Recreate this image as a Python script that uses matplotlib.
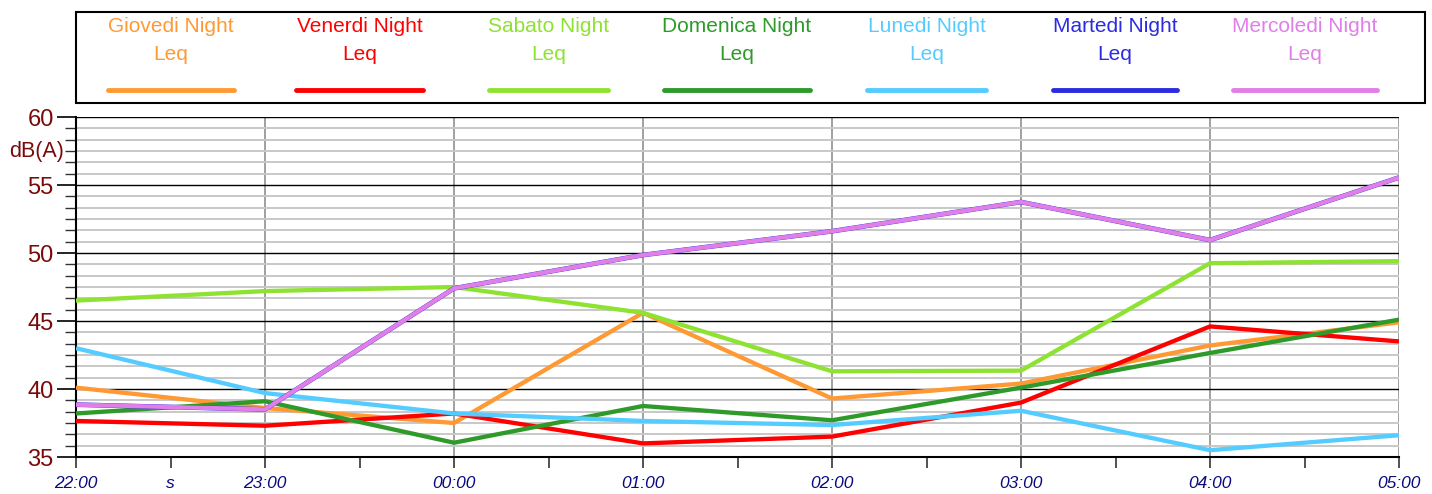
import matplotlib
matplotlib.use("Agg")
import matplotlib.pyplot as plt
from matplotlib.ticker import MultipleLocator, FixedLocator, FixedFormatter
from matplotlib.lines import Line2D
from matplotlib.patches import Rectangle
from matplotlib import font_manager

hours = ["22:00", "23:00", "00:00", "01:00", "02:00", "03:00", "04:00", "05:00"]
series_names = ["Giovedi Night", "Venerdi Night", "Sabato Night", "Domenica Night",
                "Lunedi Night", "Martedi Night", "Mercoledi Night"]
colors = ["#FF9933", "#FF0000", "#8EE232", "#2E9A2A", "#55CCFF", "#2B2BE0", "#E07FE8"]

giovedi = [40.1, 38.6, 37.5, 45.6, 39.3, 40.4, 43.2, 44.9]
venerdi = [37.65, 37.3, 38.2, 36.0, 36.5, 39.0, 44.6, 43.5]
sabato = [46.5, 47.2, 47.5, 45.6, 41.3, 41.35, 49.25, 49.4]
domenica = [38.2, 39.1, 36.05, 38.75, 37.7, 40.1, 42.65, 45.1]
lunedi = [43.0, 39.7, 38.2, 37.65, 37.35, 38.4, 35.5, 36.6]
martedi = [38.85, 38.5, 47.4, 49.85, 51.6, 53.75, 50.95, 55.55]
mercoledi = [38.85, 38.5, 47.4, 49.85, 51.6, 53.75, 50.95, 55.55]
values = [giovedi, venerdi, sabato, domenica, lunedi, martedi, mercoledi]

y_min, y_max = 35, 60

avail = {f.name for f in font_manager.fontManager.ttflist}
fam = "Liberation Sans Narrow" if "Liberation Sans Narrow" in avail else "Liberation Sans"
plt.rcParams["font.family"] = [fam, "DejaVu Sans"]

W, H = 1432, 494
fig = plt.figure(figsize=(W / 100, H / 100), dpi=100)
ax = fig.add_axes([76 / W, 1 - 457 / H, (1399 - 76) / W, (457 - 117) / H])
ax.set_axisbelow(True)

x = list(range(len(hours)))
for i, (name, vals, col) in enumerate(zip(series_names, values, colors)):
    lw = 3.4 if name.startswith("Martedi") else 3.1
    ax.plot(x, vals, color=col, lw=lw, zorder=5 + i, solid_capstyle="butt",
            solid_joinstyle="miter")

ax.set_xlim(0, len(hours) - 1)
ax.set_ylim(y_min, y_max)

# y axis
ax.yaxis.set_major_locator(MultipleLocator(5))
ax.yaxis.set_minor_locator(MultipleLocator(5 / 6))
ax.tick_params(axis="y", which="major", length=14, width=1.2, color="black",
               labelsize=17, labelcolor="#7A0A0A", pad=2)
ax.tick_params(axis="y", which="minor", length=8, width=1.0, color="#333333")
ax.grid(axis="y", which="minor", color="#C8C8C8", lw=1.4)
ax.grid(axis="y", which="major", color="black", lw=1.0)

# x axis
ax.xaxis.set_major_locator(FixedLocator(x))
ax.set_xticklabels(hours)
ax.xaxis.set_minor_locator(FixedLocator([i + 0.5 for i in range(len(hours) - 1)]))
ax.xaxis.set_minor_formatter(FixedFormatter(["s"] + [""] * (len(hours) - 2)))
ax.tick_params(axis="x", which="both", length=8, width=1.2, color="#333333", pad=6)
for lab in ax.get_xticklabels() + ax.get_xticklabels(minor=True):
    lab.set_fontstyle("italic")
    lab.set_color("#0A0A80")
    lab.set_fontsize(12.5)
ax.grid(axis="x", which="major", color="#909090", lw=1.2)

for s in ["top", "right"]:
    ax.spines[s].set_visible(False)
ax.spines["left"].set_linewidth(1.5)
ax.spines["bottom"].set_linewidth(1.5)

fig.text(9 / W, 1 - 151 / H, "dB(A)", color="#7A0A0A", fontsize=15.5,
         ha="left", va="center")

# legend box
fig.patches.append(Rectangle((76 / W, 1 - 103 / H), (1425 - 76) / W, (103 - 12) / H,
                             transform=fig.transFigure, fill=False,
                             edgecolor="black", lw=1.5))
line_spans = [(108, 234), (296, 423), (489, 608), (664, 810), (867, 986),
              (1053, 1177), (1233, 1377)]
for name, col, (x0, x1) in zip(series_names, colors, line_spans):
    cx = (x0 + x1) / 2
    fig.text(cx / W, 1 - 27 / H, name, color=col, fontsize=15, ha="center", va="center")
    fig.text(cx / W, 1 - 54 / H, "Leq", color=col, fontsize=15, ha="center", va="center")
    fig.add_artist(Line2D([x0 / W, x1 / W], [1 - 90 / H, 1 - 90 / H], color=col,
                          lw=3.5, solid_capstyle="round", transform=fig.transFigure))

fig.savefig("out.png", dpi=100)
